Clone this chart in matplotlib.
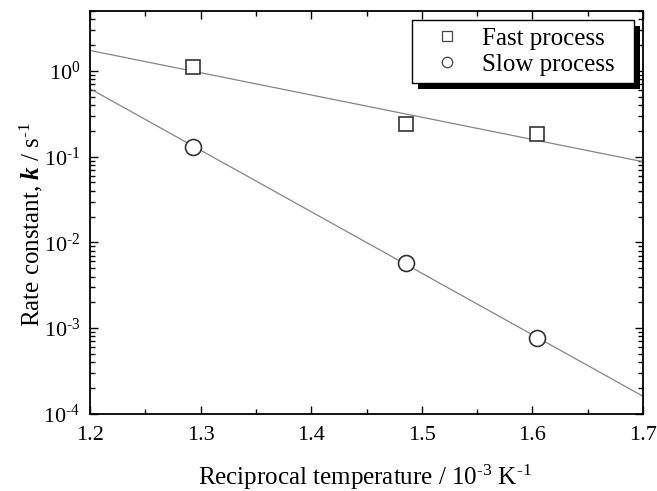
import matplotlib
matplotlib.use('Agg')
import matplotlib.pyplot as plt
from matplotlib.lines import Line2D
from matplotlib.patches import Rectangle
from matplotlib.ticker import LogLocator, FuncFormatter, MultipleLocator
import numpy as np

plt.rcParams['font.family'] = 'Liberation Serif'
plt.rcParams['mathtext.fontset'] = 'custom'
plt.rcParams['mathtext.rm'] = 'Liberation Serif'
plt.rcParams['mathtext.it'] = 'Liberation Serif:italic'
plt.rcParams['mathtext.bf'] = 'Liberation Serif:italic:bold'

# reciprocal temperature (10^-3 K^-1) and rate constants (s^-1)
x_fast = np.array([1.293, 1.486, 1.604])
k_fast = np.array([1.10, 0.24, 0.183])
x_slow = np.array([1.293, 1.486, 1.604])
k_slow = np.array([0.131, 0.0058, 0.00076])

x_lim = [1.2, 1.7]
y_lim = [1e-4, 5]

HY = '\u2010'  # short hyphen used as minus in exponents


def pow10(v, pos):
    e = int(round(np.log10(v)))
    s = str(abs(e))
    if e < 0:
        s = HY + s
    return r'$10^{%s}$' % s


# Arrhenius fits (log10 k linear in 1/T)
p_fast = np.polyfit(x_fast, np.log10(k_fast), 1)
p_slow = np.polyfit(x_slow, np.log10(k_slow), 1)
x_fit = np.linspace(x_lim[0], x_lim[1], 50)

fig = plt.figure(figsize=(6.57, 4.91), dpi=100)
ax = fig.add_axes([0.137, 0.157, 0.8417, 0.8206])

ax.semilogy(x_fit, 10**np.polyval(p_fast, x_fit), '-', color='#858585', lw=0.9)
ax.semilogy(x_fit, 10**np.polyval(p_slow, x_fit), '-', color='#858585', lw=0.9)
ax.semilogy(x_fast, k_fast, 's', ms=9.5, mfc='white', mec='#333333', mew=1.2)
ax.semilogy(x_slow, k_slow, 'o', ms=11.5, mfc='white', mec='#333333', mew=1.2)

ax.set_xlim(x_lim)
ax.set_ylim(y_lim)
ax.xaxis.set_major_locator(MultipleLocator(0.1))
ax.xaxis.set_minor_locator(MultipleLocator(0.05))
ax.yaxis.set_major_locator(LogLocator(base=10, numticks=10))
ax.yaxis.set_minor_locator(LogLocator(base=10, subs=np.arange(2, 10), numticks=10))
ax.yaxis.set_major_formatter(FuncFormatter(pow10))
ax.tick_params(which='both', direction='in', top=True, right=True, labelsize=16, width=1.0)
ax.tick_params(which='major', length=6)
ax.tick_params(which='minor', length=3.5)
ax.tick_params(axis='y', pad=7)
ax.tick_params(axis='x', pad=9)
for sp in ax.spines.values():
    sp.set_linewidth(1.3)

ax.set_xlabel(r'Reciprocal temperature / 10$^{%s3}$ K$^{%s1}$' % (HY, HY), fontsize=18)
ax.set_ylabel(r'Rate constant, $\mathbf{k}$ / s$^{%s1}$' % HY, fontsize=18)
ax.xaxis.set_label_coords(0.498, -0.158)
ax.yaxis.set_label_coords(-0.106, 0.47)
ax.yaxis.label.set_va('center')
ax.xaxis.label.set_va('center')

handles = [Line2D([], [], ls='none', marker='s', ms=7, mfc='white', mec='#444444', mew=0.9),
           Line2D([], [], ls='none', marker='o', ms=7.5, mfc='white', mec='#444444', mew=0.9)]
leg = ax.legend(handles, ['Fast process  ', 'Slow process  '], loc='upper right', fontsize=18,
                frameon=True, fancybox=False, edgecolor='black', framealpha=1,
                borderaxespad=0.35, handlelength=2.25, handletextpad=0.25,
                labelspacing=0.15, borderpad=0.3)
leg.get_frame().set_linewidth(1.0)

# solid black drop shadow behind the legend box
fig.canvas.draw()
bb = leg.get_window_extent().transformed(fig.transFigure.inverted())
dx = 6 / fig.bbox.width
dy = 6 / fig.bbox.height
shadow = Rectangle((bb.x0 + dx, bb.y0 - dy), bb.width, bb.height, transform=fig.transFigure,
                   facecolor='black', edgecolor='none', zorder=4.9, clip_on=False)
ax.add_patch(shadow)

fig.savefig('out.png', dpi=100)
